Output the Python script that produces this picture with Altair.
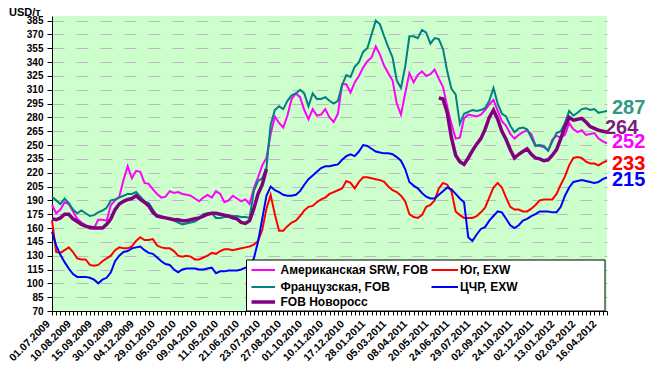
import json
import altair as alt
import pandas as pd

# ---------------- data ----------------
x_labels = ["01.07.2009", "10.08.2009", "15.09.2009", "30.10.2009", "04.12.2009",
            "29.01.2010", "05.03.2010", "09.04.2010", "11.05.2010", "21.06.2010",
            "23.07.2010", "27.08.2010", "01.10.2010", "10.11.2010", "17.12.2010",
            "28.01.2011", "05.03.2011", "08.04.2011", "20.05.2011", "24.06.2011",
            "29.07.2011", "02.09.2011", "24.10.2011", "02.12.2011", "13.01.2012",
            "02.03.2012", "16.04.2012"]

american = [185, 176, 180, 188, 186, 178, 170, 166, 163, 159,
            160, 169, 169, 168, 185, 190, 194, 212, 227, 214,
            222, 221, 209, 208, 202, 197, 193, 194, 200, 198,
            199, 197, 196, 195, 192, 189, 193, 196, 193, 200,
            197, 188, 190, 195, 192, 189, 191, 186, 203, 215,
            228, 236, 262, 281, 274, 269, 282, 300, 306, 302,
            288, 278, 289, 282, 283, 289, 280, 275, 284, 316,
            316, 307, 318, 325, 334, 341, 345, 357, 348, 336,
            328, 320, 295, 283, 306, 328, 318, 326, 330, 325,
            327, 332, 322, 313, 292, 273, 257, 258, 279, 283,
            282, 281, 283, 288, 294, 299, 287, 276, 271, 262,
            257, 261, 264, 266, 262, 250, 249, 248, 244, 256,
            260, 258, 261, 274, 267, 264, 266, 261, 262, 263,
            257, 254, 252]

french = [194, 190, 186, 192, 187, 180, 176, 179, 176, 173,
          174, 177, 179, 182, 190, 191, 193, 195, 197, 197,
          199, 194, 189, 187, 180, 173, 172, 171, 170, 168,
          166, 164, 165, 166, 167, 170, 175, 176, 176, 171,
          171, 172, 172, 173, 173, 172, 172, 171, 200, 211,
          214, 225, 272, 288, 292, 289, 298, 304, 306, 310,
          306, 292, 306, 300, 300, 302, 298, 295, 298, 315,
          326, 324, 335, 340, 351, 355, 370, 385, 381, 368,
          356, 345, 320, 312, 335, 368, 368, 366, 375, 372,
          360, 366, 365, 354, 330, 311, 305, 273, 284, 286,
          288, 287, 288, 290, 298, 312, 295, 284, 281, 271,
          264, 268, 269, 267, 258, 249, 250, 249, 244, 254,
          263, 265, 274, 287, 282, 285, 289, 290, 288, 289,
          285, 286, 287]

novoross = [170, 169, 171, 175, 175, 170, 167, 164, 162, 161,
            160, 160, 160, 164, 170, 180, 186, 189, 191, 192,
            195, 191, 188, 184, 177, 173, 172, 171, 170, 169,
            169, 168, 168, 169, 170, 171, 173, 175, 176, 176,
            175, 174, 173, 171, 170, 166, 165, 168, 181, 197,
            207, 224, None, None, None, None, None, None, None, None,
            None, None, None, None, None, None, None, None, None, None,
            None, None, None, None, None, None, None, None, None, None,
            None, None, None, None, None, None, None, None, None, None,
            None, None, 301, 300, 285, 258, 239, 232, 229, 236,
            244, 251, 257, 267, 280, 288, 278, 265, 256, 245,
            236, 240, 243, 246, 240, 236, 235, 233, 234, 239,
            245, 257, 270, 280, 277, 278, 279, 275, 270, 268,
            266, 265, 264]

yug = [168, 134, 133, 136, 139, 134, 127, 126, 126, 120,
       119, 120, 124, 127, 130, 136, 139, 138, 138, 140,
       146, 150, 147, 147, 148, 141, 139, 138, 138, 135,
       130, 129, 130, 129, 126, 126, 128, 130, 133, 132,
       135, 137, 137, 136, 137, 138, 139, 140, 142, 146,
       158, 181, 196, 175, 157, 157, 162, 166, 168, 173,
       179, 183, 184, 188, 191, 193, 197, 199, 201, 203,
       211, 209, 203, 210, 215, 215, 214, 213, 212, 210,
       205, 201, 199, 195, 189, 175, 172, 171, 174, 183,
       185, 190, 203, 209, 207, 200, 178, 174, 171, 171,
       171, 173, 177, 182, 193, 204, 209, 204, 193, 183,
       180, 180, 178, 178, 181, 185, 190, 191, 191, 191,
       197, 207, 216, 228, 236, 237, 236, 232, 230, 230,
       228, 231, 233]

cchr = [156, 141, 131, 123, 116, 110, 107, 107, 107, 106,
        104, 100, 104, 106, 112, 124, 130, 134, 135, 138,
        139, 140, 136, 133, 132, 128, 124, 121, 120, 115,
        112, 115, 116, 116, 116, 115, 115, 116, 117, 111,
        113, 113, 114, 114, 114, 115, 117, 118, 127, 145,
        170, 195, 205, 201, 199, 196, 195, 195, 196, 200,
        207, 213, 217, 221, 225, 227, 227, 228, 229, 234,
        238, 240, 238, 243, 250, 249, 246, 243, 242, 241,
        241, 240, 237, 233, 224, 210, 206, 203, 198, 194,
        192, 192, 196, 200, 204, 202, 197, 192, 188, 150,
        146, 153, 159, 161, 168, 173, 178, 177, 170, 163,
        160, 163, 168, 170, 173, 175, 178, 178, 178, 177,
        177, 183, 195, 204, 210, 211, 212, 211, 210, 209,
        210, 213, 215]

series_names = ["Американская SRW, FOB", "Юг, EXW", "Французская, FOB", "ЦЧР, EXW", "FOB Новоросс"]
series_values = [american, yug, french, cchr, novoross]
series_colors = ["#FF00FF", "#FF0000", "#008080", "#0000FF", "#800080"]
series_widths = [2, 2, 2, 2, 3.5]
label_colors = ["#FF00FF", "#FF0000", "#2E9A80", "#0000FF", "#7A1F7A"]

# ---------------- table ----------------
rows = []
for name, vals in zip(series_names, series_values):
    seg = 0
    prev_none = True
    for i, v in enumerate(vals):
        if v is None:
            prev_none = True
            continue
        if prev_none:
            seg += 1
            prev_none = False
        rows.append({"idx": i, "value": v, "series": name, "seg": f"{name}-{seg}"})
df = pd.DataFrame(rows)

N = len(american)
FONT = "Liberation Sans"

label_expr = ("datum.value % 5 === 0 ? " + json.dumps(x_labels, ensure_ascii=False)
              + "[datum.value / 5] : ''")

x_enc = alt.X("idx:Q",
              scale=alt.Scale(domain=[0, N - 1], nice=False, zero=False),
              axis=alt.Axis(title=None, values=list(range(N)), labelExpr=label_expr,
                            labelAngle=-45, labelAlign="right", labelBaseline="middle",
                            labelPadding=7, labelOffset=-4, labelFontSize=10.5, labelFontWeight="bold",
                            labelColor="black", labelOverlap=False, labelFlush=False,
                            labelBound=False, tickSize=4, tickColor="black",
                            domainColor="black", grid=False))
y_enc = alt.Y("value:Q",
              scale=alt.Scale(domain=[70, 390], nice=False, zero=False),
              axis=alt.Axis(title=None, values=list(range(70, 386, 15)),
                            labelFontSize=10, labelFontWeight="bold", labelColor="black",
                            labelOverlap=False,
                            labelPadding=4, tickSize=5, tickColor="black", domainColor="black",
                            grid=True, gridColor="#BDB8C4", gridDash=[12, 12], gridWidth=1))

layers = []
for name, col, w in zip(series_names, series_colors, series_widths):
    layers.append(
        alt.Chart(df).transform_filter(alt.datum.series == name)
        .mark_line(color=col, strokeWidth=w, interpolate="linear")
        .encode(x=x_enc, y=y_enc, detail="seg:N")
    )

# end-value labels
end_dx = {"Американская SRW, FOB": 5, "Юг, EXW": 5, "Французская, FOB": 5,
          "ЦЧР, EXW": 5, "FOB Новоросс": -2}
end_dy = {"Американская SRW, FOB": -1, "Юг, EXW": 3, "Французская, FOB": -3,
          "ЦЧР, EXW": 3, "FOB Новоросс": -4}
for name, vals, lc in zip(series_names, series_values, label_colors):
    last = vals[-1]
    d = pd.DataFrame({"idx": [N - 1], "value": [last], "label": [str(last)]})
    layers.append(
        alt.Chart(d).mark_text(align="left", baseline="middle", fontSize=20,
                               fontWeight="bold", font=FONT, color=lc,
                               dx=end_dx[name], dy=end_dy[name])
        .encode(x=x_enc, y=y_enc, text="label:N")
    )

# legend box (manual)
one = pd.DataFrame({"k": [0]})
layers.append(
    alt.Chart(one).mark_rect(fill="white", stroke="black", strokeWidth=1)
    .encode(x=alt.value(194.5), x2=alt.value(553), y=alt.value(244), y2=alt.value(295))
)
leg_pos = [(199.5, 223, 228.5, 254), (379.5, 406, 408, 254),
           (199.5, 223, 228.5, 271), (379.5, 406, 408, 271),
           (199.5, 223, 228.5, 286)]
for name, col, w, (lx0, lx1, tx, ly) in zip(series_names, series_colors, series_widths, leg_pos):
    layers.append(
        alt.Chart(one).mark_rule(color=col, strokeWidth=(2 if w < 3 else 3.5))
        .encode(x=alt.value(lx0), x2=alt.value(lx1), y=alt.value(ly))
    )
    layers.append(
        alt.Chart(pd.DataFrame({"t": [name]}))
        .mark_text(align="left", baseline="middle", fontSize=12, fontWeight="bold",
                   font=FONT, color="black")
        .encode(x=alt.value(tx), y=alt.value(ly), text="t:N")
    )

# unit label
layers.append(
    alt.Chart(pd.DataFrame({"t": ["USD/т"]}))
    .mark_text(align="left", baseline="alphabetic", fontSize=11, fontWeight="bold",
               font=FONT, color="black")
    .encode(x=alt.value(-43), y=alt.value(0), text="t:N")
)

chart = (
    alt.layer(*layers)
    .properties(width=555, height=295,
                padding={"left": 44, "top": 8, "right": 38, "bottom": 52},
                autosize=alt.AutoSizeParams(type="none"),
                background="white")
    .configure_view(fill="#CCFFCC", strokeWidth=0)
    .configure_axis(labelFont=FONT)
    .configure_text(font=FONT)
)

chart.save("out.html", embed_options={"renderer": "svg", "actions": False})
